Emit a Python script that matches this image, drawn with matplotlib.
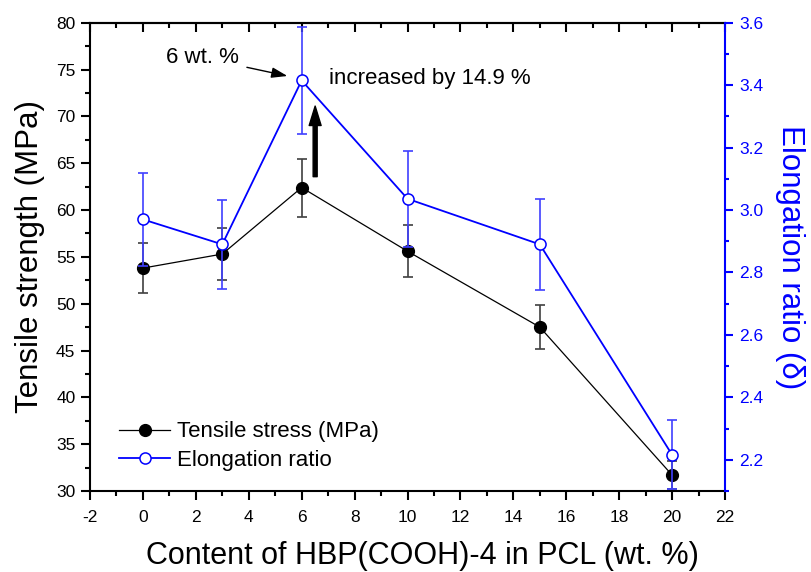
import matplotlib
matplotlib.use("Agg")
import matplotlib.pyplot as plt
from matplotlib.lines import Line2D
from matplotlib.ticker import MultipleLocator, FormatStrFormatter

plt.rcParams["font.family"] = ["Liberation Sans", "DejaVu Sans"]
plt.rcParams["axes.unicode_minus"] = False

# HBP(COOH)-4 content (wt. %)
content = [0, 3, 6, 10, 15, 20]
tensile = [53.8, 55.3, 62.4, 55.6, 47.5, 31.7]
tensile_err = [2.7, 2.75, 3.1, 2.75, 2.35, 1.5]
elong = [2.97, 2.89, 3.415, 3.036, 2.89, 2.216]
elong_err = [0.15, 0.143, 0.17, 0.153, 0.145, 0.111]

BLUE = "#0000ff"

fig = plt.figure(figsize=(8.12, 5.72), dpi=100)
ax = fig.add_axes([0.1108, 0.1416, 0.7821, 0.8187])
ax2 = ax.twinx()

# tensile strength, left axis
ax.errorbar(content, tensile, yerr=tensile_err, fmt="none", ecolor="#404040",
            elinewidth=1.2, capsize=3.9, capthick=1.2, zorder=2)
ax.plot(content, tensile, color="black", lw=0.9, marker="o", ms=8.5,
        mfc="black", mec="black", zorder=3)

# elongation ratio, right axis
ax2.errorbar(content, elong, yerr=elong_err, fmt="none", ecolor="#4040ff",
             elinewidth=1.2, capsize=3.9, capthick=1.2, zorder=2)
ax2.plot(content, elong, color=BLUE, lw=1.3, marker="o", ms=8,
         mfc="white", mec=BLUE, mew=1.1, zorder=3)

ax.set_xlim(-2, 22)
ax.set_ylim(30, 80)
ax2.set_ylim(2.1, 3.6)

ax.xaxis.set_major_locator(MultipleLocator(2))
ax.xaxis.set_minor_locator(MultipleLocator(1))
ax.yaxis.set_major_locator(MultipleLocator(5))
ax.yaxis.set_minor_locator(MultipleLocator(2.5))
ax2.set_yticks([2.2, 2.4, 2.6, 2.8, 3.0, 3.2, 3.4, 3.6])
ax2.yaxis.set_minor_locator(MultipleLocator(0.1))
ax2.yaxis.set_major_formatter(FormatStrFormatter("%.1f"))

for s in ax.spines.values():
    s.set_linewidth(1.5)
ax.spines["right"].set_visible(False)
for name, s in ax2.spines.items():
    s.set_visible(name == "right")
ax2.spines["right"].set_color(BLUE)
ax2.spines["right"].set_linewidth(1.5)

ax.tick_params(axis="both", which="major", direction="out", length=6.5,
               width=1.5, labelsize=12.5, pad=4)
ax.tick_params(axis="both", which="minor", direction="out", length=3.5,
               width=1.5)
ax.tick_params(axis="x", pad=7)
ax2.tick_params(axis="y", which="major", direction="out", length=6,
                width=1.5, colors=BLUE, labelsize=12.5, pad=4)
ax2.tick_params(axis="y", which="minor", direction="out", length=3,
                width=1.5, colors=BLUE)

# top ticks point into the plot
top = ax.secondary_xaxis("top")
top.set_xticks(range(-2, 23, 2))
top.set_xticks(range(-2, 23, 1), minor=True)
top.tick_params(which="major", direction="in", length=6.5, width=1.5,
                labeltop=False)
top.tick_params(which="minor", direction="in", length=3.5, width=1.5)
top.spines["top"].set_linewidth(1.5)

ax.set_xlabel("Content of HBP(COOH)-4 in PCL (wt. %)", fontsize=22,
              labelpad=12, x=0.523)
ax.set_ylabel("Tensile strength (MPa)", fontsize=22.5, labelpad=8)
ax2.set_ylabel("Elongation ratio (\u03b4)", fontsize=22.5, color=BLUE,
               rotation=-90, labelpad=30)

# annotations
ax.annotate("", xy=(6.51, 71.1), xytext=(6.51, 63.56),
            arrowprops=dict(width=2.9, headwidth=8.6, headlength=14,
                            color="black", shrink=0))
ax.annotate("6 wt. %", xy=(5.46, 74.31), xytext=(3.62, 76.26),
            ha="right", va="center", fontsize=16,
            arrowprops=dict(arrowstyle="-|>,head_length=0.6,head_width=0.2",
                            lw=1, color="black", shrinkA=4, shrinkB=0))
ax.text(7.02, 73.99, "increased by 14.9 %", ha="left", va="center",
        fontsize=16)

handles = [
    Line2D([], [], color="black", lw=0.9, marker="o", ms=8.5, mfc="black",
           mec="black"),
    Line2D([], [], color=BLUE, lw=1.3, marker="o", ms=8, mfc="white",
           mec=BLUE, mew=1.1),
]
ax.legend(handles, ["Tensile stress (MPa)", "Elongation ratio"],
          loc="lower left", bbox_to_anchor=(0.025, 0.015), frameon=False,
          fontsize=16, handlelength=2.3, handletextpad=0.3,
          labelspacing=0.33, borderaxespad=0.2)

fig.savefig("out.png", dpi=100)
